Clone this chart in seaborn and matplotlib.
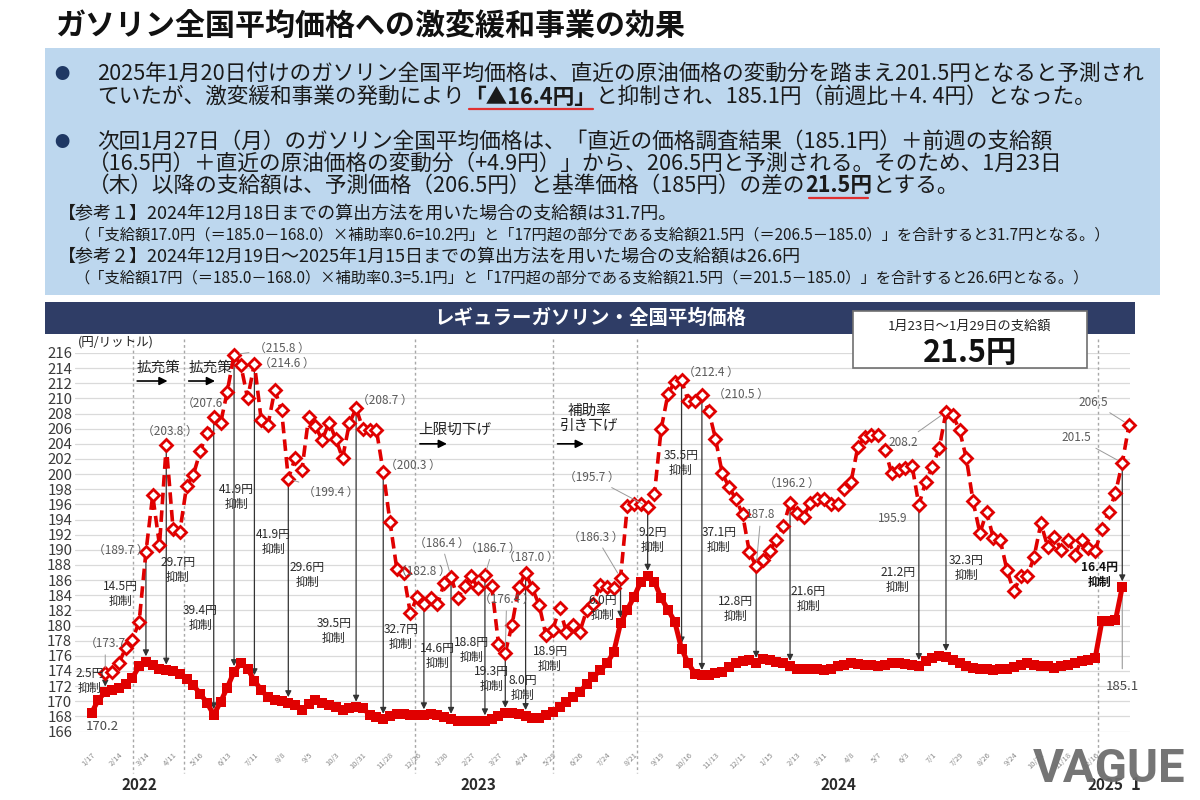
import numpy as np
import pandas as pd
import seaborn as sns
import matplotlib.pyplot as plt
from matplotlib.patches import Rectangle
from matplotlib.lines import Line2D

# weekly survey points, 2022-01-17 .. 2025-01-20 (actual, with subsidy)
actual_price = [
    168.5, 170.2, 171.2, 171.5, 171.8, 172.3, 173.1, 174.6, 175.2, 174.8,
    174.2, 174.1, 174.0, 173.6, 172.9, 172.1, 171.0, 169.8, 168.2, 169.9,
    171.8, 173.9, 175.0, 174.3, 172.7, 171.5, 170.5, 170.1, 170.0, 169.8,
    169.5, 168.8, 169.6, 170.2, 169.8, 169.5, 169.2, 168.9, 169.1, 169.2,
    169.1, 168.2, 167.9, 167.6, 168.1, 168.3, 168.3, 168.2, 168.2, 168.2,
    168.3, 168.2, 167.9, 167.6, 167.4, 167.4, 167.4, 167.4, 167.4, 167.7,
    168.1, 168.4, 168.4, 168.3, 168.1, 167.8, 167.8, 168.2, 168.6, 169.3,
    169.9, 170.6, 171.2, 172.3, 173.2, 174.1, 175.0, 176.5, 180.3, 182.1,
    183.8, 185.8, 186.5, 185.8, 183.6, 182.1, 180.5, 176.9, 175.0, 173.6,
    173.4, 173.5, 173.7, 173.9, 174.5, 175.1, 175.3, 175.4, 175.0, 175.6,
    175.4, 175.2, 175.0, 174.6, 174.3, 174.2, 174.3, 174.2, 174.1, 174.2,
    174.6, 174.8, 175.0, 174.9, 174.8, 174.8, 174.6, 174.8, 175.0, 175.0,
    174.9, 174.8, 174.7, 175.3, 175.7, 176.0, 175.9, 175.4, 175.0, 174.6,
    174.4, 174.3, 174.2, 174.1, 174.2, 174.3, 174.5, 174.8, 175.0, 174.8,
    174.7, 174.6, 174.4, 174.6, 174.8, 175.0, 175.3, 175.5, 175.7, 180.6,
    180.6, 180.7, 185.1,
]

# price without subsidy, starts at 2022-01-31 (week 2), last value = forecast for 1/27
nosub_start = 2
nosub_price = [
    173.7, 173.9, 175.0, 177.0, 178.1, 180.5, 189.7, 197.2,
    190.6, 203.8, 192.8, 192.4, 198.4, 199.9, 203.0, 205.4, 207.6, 206.7,
    210.9, 215.8, 214.4, 210.0, 214.6, 207.2, 206.5, 211.1, 208.5, 199.4,
    202.1, 200.5, 207.5, 206.3, 204.5, 206.8, 204.7, 202.1, 206.7, 208.7,
    206.0, 205.8, 205.8, 200.3, 193.7, 187.5, 186.9, 181.6, 183.8, 182.8,
    183.7, 182.8, 185.6, 186.4, 183.6, 185.2, 186.5, 184.9, 186.7, 185.2,
    177.6, 176.4, 180.1, 185.1, 187.0, 184.9, 182.7, 178.7, 179.4, 182.3,
    179.2, 180.1, 179.2, 182.0, 182.9, 185.4, 185.1, 184.9, 186.3, 195.8,
    196.0, 196.1, 195.7, 197.4, 206.0, 210.6, 212.2, 212.4, 209.6, 209.7,
    210.5, 208.4, 204.7, 200.1, 198.3, 196.7, 194.7, 189.7, 187.8, 188.7,
    189.9, 191.3, 193.1, 196.2, 194.8, 194.4, 196.2, 196.7, 196.7, 196.1,
    196.1, 198.1, 199.0, 203.6, 204.9, 205.2, 205.2, 203.2, 200.1, 200.5,
    200.8, 201.1, 195.9, 199.0, 201.0, 203.4, 208.2, 207.8, 205.8, 202.1,
    196.4, 192.2, 195.0, 191.5, 191.3, 187.3, 184.5, 186.5, 186.5, 189.1,
    193.5, 190.4, 191.7, 190.0, 191.3, 189.3, 191.3, 190.2, 189.8, 192.8,
    195.0, 197.5, 201.5, 206.5,
]

tick_labels = ["1/17", "2/14", "3/14", "4/11", "5/16", "6/13", "7/11", "8/8", "9/5",
               "10/3", "10/31", "11/28", "12/26", "1/30", "2/27", "3/27", "4/24",
               "5/29", "6/26", "7/24", "8/21", "9/19", "10/16", "11/13", "12/11",
               "1/15", "2/13", "3/11", "4/8", "5/7", "6/3", "7/1", "7/29", "8/26",
               "9/24", "10/21", "11/18", "12/16"]

# week index of each arrow and the amount written beside it
arrow_weeks = [2, 8, 11, 18, 21, 24, 29, 39, 43, 49, 53, 58, 61, 64, 78, 82, 87, 90,
               98, 103, 122, 126, 152]
suppression = ["2.5", "14.5", "29.7", "39.4", "41.9", "41.9", "29.6", "39.5", "32.7",
               "14.6", "18.8", "19.3", "8.0", "18.9", "6.0", "9.2", "35.5", "37.1",
               "12.8", "21.6", "21.2", "32.3", "16.4"]

years = ["2022", "2023", "2024", "2025"]

RED = "#E00000"
W, H = 1200, 800

sns.set_theme(style="white")
plt.rcParams['font.family'] = ['Noto Sans CJK JP', 'DejaVu Sans']

fig = plt.figure(figsize=(12, 8), dpi=100)
fig.patch.set_facecolor("white")


def fx(x):
    return x / W


def fy(y):
    return 1 - y / H


# ---------- header: title + blue info box ----------
fig.text(fx(55), fy(27), "ガソリン全国平均価格への激変緩和事業の効果", fontsize=21.6,
         fontweight="bold", color="#111111", va="center", ha="left")
fig.add_artist(Rectangle((fx(45), fy(295)), fx(1115), (295 - 48) / H,
                         transform=fig.transFigure, facecolor="#BDD7EE", edgecolor="none"))

renderer = fig.canvas.get_renderer()


def draw_line(x, y, segments, size):
    for txt, bold in segments:
        t = fig.text(fx(x), fy(y), txt, fontsize=size, color="#1a1a1a",
                     fontweight="bold" if bold else "normal", va="center", ha="left")
        bb = t.get_window_extent(renderer=renderer)
        if bold:
            fig.add_artist(Line2D([fx(x + 4), fx(x + bb.width - 4)], [fy(y + 12)] * 2,
                                  color="#E03030", lw=1.6))
        x += bb.width


for by in (74, 142):
    fig.text(fx(62), fy(by), "●", fontsize=11, color="#1F3864", va="center", ha="center")

main = 15.6
sub = 11.0
draw_line(97, 74, [("2025年1月20日付けのガソリン全国平均価格は、直近の原油価格の変動分を踏まえ201.5円となると予測され", False)], main)
draw_line(97, 97, [("ていたが、激変緩和事業の発動により", False), ("「▲16.4円」", True),
                   ("と抑制され、185.1円（前週比＋4. 4円）となった。", False)], main)
draw_line(97, 142, [("次回1月27日（月）のガソリン全国平均価格は、「直近の価格調査結果（185.1円）＋前週の支給額", False)], main)
draw_line(88, 164, [("（16.5円）＋直近の原油価格の変動分（+4.9円）」から、206.5円と予測される。そのため、1月23日", False)], main)
draw_line(88, 186, [("（木）以降の支給額は、予測価格（206.5円）と基準価格（185円）の差の", False),
                    ("21.5円", True), ("とする。", False)], main)
draw_line(58, 214, [("【参考１】2024年12月18日までの算出方法を用いた場合の支給額は31.7円。", False)], 13.0)
draw_line(74, 235, [("（「支給額17.0円（＝185.0－168.0）×補助率0.6=10.2円」と「17円超の部分である支給額21.5円（＝206.5－185.0）」を合計すると31.7円となる。）", False)], sub)
draw_line(58, 257, [("【参考２】2024年12月19日～2025年1月15日までの算出方法を用いた場合の支給額は26.6円", False)], 13.0)
draw_line(74, 278, [("（「支給額17円（＝185.0－168.0）×補助率0.3=5.1円」と「17円超の部分である支給額21.5円（＝201.5－185.0）」を合計すると26.6円となる。）", False)], sub)

# navy bar with chart title
fig.add_artist(Rectangle((fx(45), fy(334)), fx(1090), 32 / H, transform=fig.transFigure,
                         facecolor="#2F3D66", edgecolor="none"))
fig.text(fx(590), fy(318), "レギュラーガソリン・全国平均価格", fontsize=14, fontweight="bold",
         color="white", va="center", ha="center")

# ---------- chart ----------
ax = fig.add_axes([fx(75), fy(731.5), fx(1055), 378.5 / H])
ax.set_facecolor("none")

df_actual = pd.DataFrame({"week": np.arange(len(actual_price)), "price": actual_price})
df_nosub = pd.DataFrame({"week": np.arange(len(nosub_price)) + nosub_start, "price": nosub_price})

sns.lineplot(data=df_nosub, x="week", y="price", ax=ax, color=RED, lw=2.6,
             linestyle=(0, (3.2, 1.7)), marker="D", markersize=6.5,
             markerfacecolor="white", markeredgecolor=RED, markeredgewidth=2.0,
             estimator=None, zorder=4, clip_on=False)
sns.lineplot(data=df_actual, x="week", y="price", ax=ax, color=RED, lw=3.6,
             marker="s", markersize=6.6, markeredgewidth=0, estimator=None, zorder=5)

ax.set_xlim(-2.46, 153.14)
ax.set_ylim(166, 216)
ax.set_xlabel("")
ax.set_ylabel("")
ax.set_yticks(range(166, 217, 2))
ax.yaxis.grid(True, color="#dadada", lw=0.9)
ax.xaxis.grid(False)
for s in ax.spines.values():
    s.set_visible(False)
ax.tick_params(axis="y", length=0, pad=2, labelsize=10.8, labelcolor="#3a3a3a")
ax.set_xticks(np.arange(len(tick_labels)) * 4)
ax.set_xticklabels(tick_labels, rotation=45, ha="right", rotation_mode="anchor",
                   fontsize=5.5, color="#8a8a8a")
ax.tick_params(axis="x", length=0, pad=14)

fig.text(fx(78), fy(342), "(円/リットル)", fontsize=9, color="#222222", va="center")

# policy change separators
for xv in (6.1, 13.6, 47.7, 68.0, 80.4, 148.4):
    ax.plot([xv, xv], [217.8, 160.5], ls=(0, (2, 2)), color="#a8a8a8", lw=1.0,
            clip_on=False, zorder=1)

# policy labels
arrow_kw = dict(arrowstyle="-|>", color="black", lw=1.2, mutation_scale=12)
for txt, tx, ty, x0, x1, ay in [("拡充策", 9.8, 214.0, 6.3, 11.6, 212.3),
                                ("拡充策", 17.6, 214.0, 13.9, 18.6, 212.3),
                                ("上限切下げ", 53.6, 205.8, 48.0, 52.8, 204.0),
                                ("補助率\n引き下げ", 73.4, 207.3, 68.3, 73.0, 204.0)]:
    ax.text(tx, ty, txt, fontsize=10.5, color="#222222", ha="center", va="center",
            linespacing=1.1)
    ax.annotate("", xy=(x1, ay), xytext=(x0, ay), arrowprops=arrow_kw)

# suppression arrows from no-subsidy price down to actual price
for wk in arrow_weeks:
    top = nosub_price[wk - nosub_start]
    ax.annotate("", xy=(wk, actual_price[wk]), xytext=(wk, top),
                arrowprops=dict(arrowstyle="-|>", color="#333333", lw=0.9,
                                mutation_scale=9, shrinkA=3, shrinkB=4), zorder=3)

supp_pos = [(-0.3, 172.7), (4.3, 184.2), (12.7, 187.3), (16.0, 181.0), (21.3, 197.0),
            (26.8, 191.0), (31.8, 186.7), (35.7, 179.3), (45.6, 178.5), (51.0, 176.0),
            (56.0, 176.8), (59.0, 173.0), (63.6, 171.8), (67.6, 175.6), (75.4, 182.3),
            (82.7, 191.3), (86.9, 201.5), (92.5, 191.3), (94.9, 182.2), (105.7, 183.5),
            (118.9, 186.0), (129.0, 187.6), (148.6, 186.7)]
for amt, (tx, ty) in zip(suppression, supp_pos):
    last = amt == "16.4"
    ax.text(tx, ty, f"{amt}円\n抑制", fontsize=8.6, color="#111111" if last else "#2a2a2a",
            fontweight="bold" if last else "normal", ha="center", va="center",
            linespacing=1.2, zorder=6)

# grey value labels, some with leader lines
value_labels = [("（173.7", 2.0, 177.6, 2), ("（189.7 ）", 4.3, 189.9, None),
                ("（203.8 ）", 11.5, 205.6, None), ("（207.6", 16.4, 209.4, None),
                ("（215.8 ）", 28.0, 216.6, 21), ("（214.6 ）", 28.8, 214.6, None),
                ("（199.4 ）", 35.2, 197.6, 29), ("（208.7 ）", 43.3, 209.8, None),
                ("（200.3 ）", 47.3, 201.2, None), ("（182.8 ）", 48.8, 187.1, None),
                ("（186.4 ）", 51.6, 190.9, 53), ("（186.7 ）", 59.2, 190.2, 58),
                ("（176.4 ）", 61.2, 183.4, 61), ("（187.0 ）", 64.7, 189.0, None),
                ("（186.3 ）", 74.4, 191.7, 78), ("（195.7 ）", 73.8, 199.6, 82),
                ("（212.4 ）", 91.3, 213.4, None), ("（210.5 ）", 95.8, 210.5, None),
                ("187.8", 98.7, 194.6, 98), ("（196.2 ）", 103.2, 198.8, None),
                ("195.9", 118.2, 194.2, None), ("208.2", 119.7, 204.2, 126),
                ("206.5", 147.7, 209.5, 153), ("201.5", 145.3, 204.8, 152)]
for txt, tx, ty, target in value_labels:
    if target is None:
        ax.text(tx, ty, txt, fontsize=8.5, color="#5a5a5a", ha="center", va="center",
                zorder=6)
    else:
        ax.annotate(txt, xy=(target, nosub_price[target - nosub_start]), xytext=(tx, ty),
                    fontsize=8.5, color="#5a5a5a", ha="center", va="center", zorder=6,
                    arrowprops=dict(arrowstyle="-", color="#9a9a9a", lw=0.7,
                                    shrinkA=1, shrinkB=4))

ax.annotate("185.1", xy=(152, actual_price[152]), xytext=(152, 171.9), fontsize=9.5,
            color="#4a4a4a", ha="center", va="center",
            arrowprops=dict(arrowstyle="-", color="#9a9a9a", lw=0.8, shrinkA=6, shrinkB=6))
ax.text(1.5, 166.6, "170.2", fontsize=9.5, color="#4a4a4a", ha="center", va="center")

# watermark and year labels under the axis
fig.text(fx(1185), fy(769), "VAGUE", fontsize=34, fontweight="bold", color="#6e6e6e",
         family="Roboto", ha="right", va="center", alpha=0.95)
tr = ax.get_xaxis_transform()
for yr, xv in zip(years, (7.1, 57.0, 110.1, 149.5)):
    ax.text(xv, -0.141, yr, transform=tr, fontsize=11, fontweight="bold",
            color="#2a2a2a", ha="center", va="center", zorder=10)
ax.text(153.9, -0.141, "1", transform=tr, fontsize=12, fontweight="bold",
        color="#2a2a2a", ha="center", va="center", zorder=10)

# payment box
fig.add_artist(Rectangle((fx(853), fy(368)), fx(234), 57 / H, transform=fig.transFigure,
                         facecolor="white", edgecolor="#707070", lw=1.2, zorder=20))
fig.text(fx(970), fy(326), "1月23日～1月29日の支給額", fontsize=9.5, color="#222222",
         ha="center", va="center", zorder=21)
fig.text(fx(970), fy(353), "21.5円", fontsize=22, fontweight="bold", color="#111111",
         ha="center", va="center", zorder=21)

plt.savefig("out.png", dpi=100)
